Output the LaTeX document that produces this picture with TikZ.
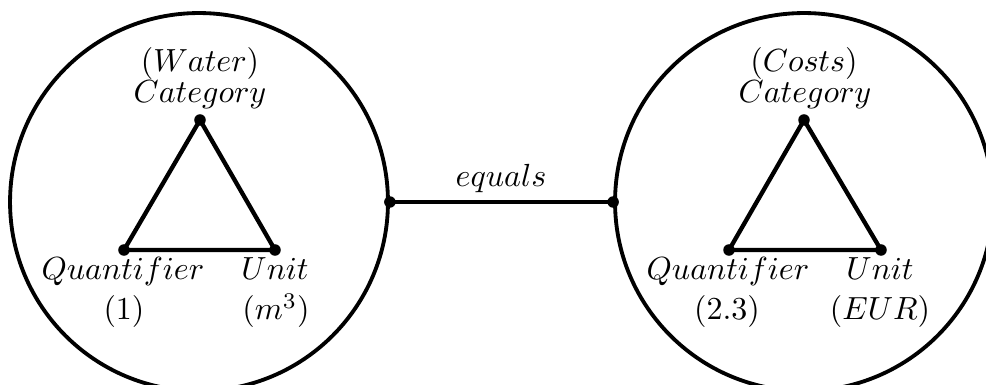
\documentclass[tikz,border=0pt]{standalone}
\begin{document}
\begin{tikzpicture}[x=0.3125pt,y=-0.3125pt,
  bigcirc/.style={draw,circle,line width=1.2pt,minimum size=118.1pt,inner sep=0pt},
  dotnode/.style={fill,circle,minimum size=3.6pt,inner sep=0pt},
  edge/.style={line width=1.35pt},
  lbl/.style={anchor=base,inner sep=0pt}]
\useasboundingbox (0,0) rectangle (986,385);
\clip (0,0) rectangle (986,385);
% circles
\node[bigcirc] (L) at (199,202) {};
\node[bigcirc] (R) at (804,202) {};
\node[dotnode] (Le) at (L.east) {};
\node[dotnode] (Rw) at (R.west) {};
\draw[edge] (Le.center) -- (Rw.center);
\node[lbl] (eq) at (501,187) {$equals$};
% left triangle
\node[dotnode] (LA) at (200,120) {};
\node[dotnode] (LQ) at (124,250) {};
\node[dotnode] (LU) at (275,250) {};
\draw[edge,line join=round] (LA.center) -- (LQ.center) -- (LU.center) -- cycle;
\node[lbl] (LAt1) at (200,72) {$(Water)$};
\node[lbl] (LAt2) at (200,103) {$Category$};
\node[lbl] (LQt1) at (123,280) {$Quantifier$};
\node[lbl] (LQt2) at (124,320) {$(1)$};
\node[lbl] (LUt1) at (275,280) {$Unit$};
\node[lbl] (LUt2) at (276,320) {$(m^3)$};
% right triangle
\node[dotnode] (RA) at (804,120) {};
\node[dotnode] (RQ) at (729,250) {};
\node[dotnode] (RU) at (881,250) {};
\draw[edge,line join=round] (RA.center) -- (RQ.center) -- (RU.center) -- cycle;
\node[lbl] (RAt1) at (804,72) {$(Costs)$};
\node[lbl] (RAt2) at (805,103) {$Category$};
\node[lbl] (RQt1) at (728,280) {$Quantifier$};
\node[lbl] (RQt2) at (727,320) {$(2.3)$};
\node[lbl] (RUt1) at (880,280) {$Unit$};
\node[lbl] (RUt2) at (880,320) {$(EUR)$};
\end{tikzpicture}
\end{document}
